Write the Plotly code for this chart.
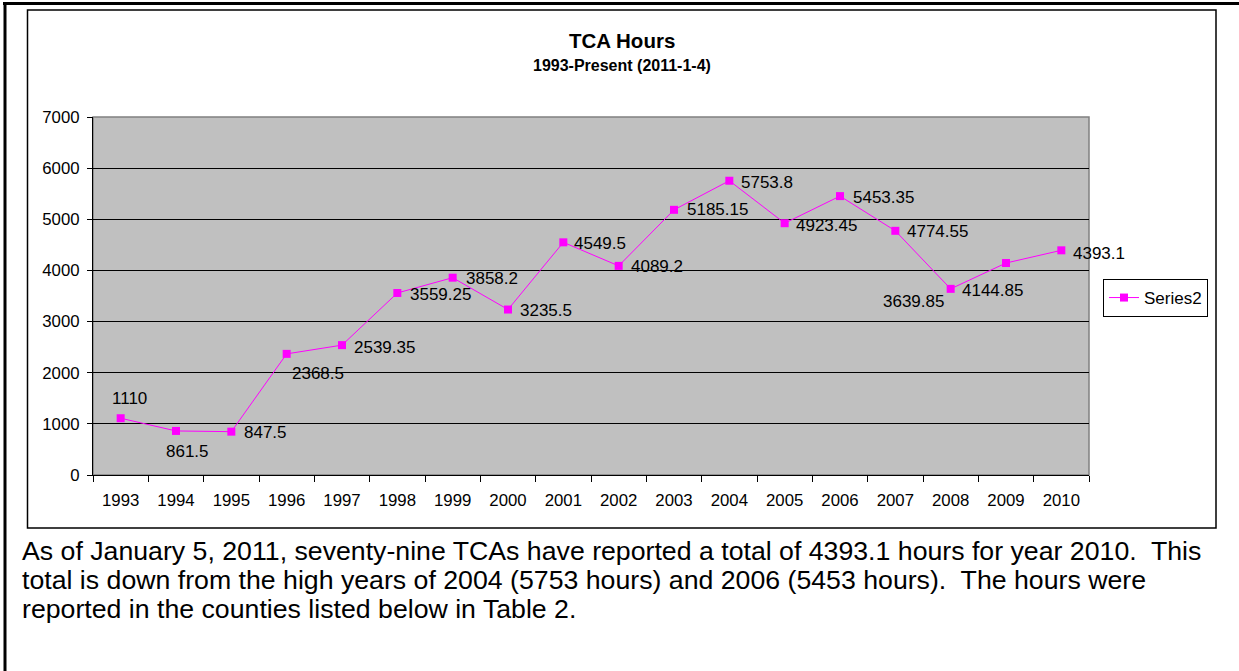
import plotly.graph_objects as go

# ---------------- data ----------------
years = ["1993", "1994", "1995", "1996", "1997", "1998", "1999", "2000", "2001",
         "2002", "2003", "2004", "2005", "2006", "2007", "2008", "2009", "2010"]
hours = [1110, 861.5, 847.5, 2368.5, 2539.35, 3559.25, 3858.2, 3235.5, 4549.5,
         4089.2, 5185.15, 5753.8, 4923.45, 5453.35, 4774.55, 3639.85, 4144.85, 4393.1]
series_name = "Series2"
y_ticks = [0, 1000, 2000, 3000, 4000, 5000, 6000, 7000]

title_text = "TCA Hours"
subtitle_text = "1993-Present (2011-1-4)"
paragraph_lines = [
    "As of January 5, 2011, seventy-nine TCAs have reported a total of 4393.1 hours for year 2010.\u00a0 This",
    "total is down from the high years of 2004 (5753 hours) and 2006 (5453 hours).\u00a0 The hours were",
    "reported in the counties listed below in Table 2.",
]

# ---------------- style ----------------
W, H = 1239, 671
PL, PR, PT, PB = 93, 1089, 117, 475          # plot area in pixels
FONT = "Liberation Sans, Arial, sans-serif"
MAGENTA = "#FF00FF"

# label offsets (pixels: right, down) relative to each marker
label_dx = [9, 11, 34, 31, 42, 43, 39, 38, 37, 38, 43, 38, 42, 43, 42, -37, -14, 38]
label_dy = [-20, 21, 1, 20, 2, 2, 1, 1, 1, 1, 0, 2, 2, 1, 1, 13, 27, 3]


def px(x):
    return (x - PL) / (PR - PL)


def py(y):
    return (PB - y) / (PB - PT)


fig = go.Figure()
fig.add_trace(go.Scatter(
    x=years, y=hours, name=series_name, mode="lines+markers",
    line=dict(color=MAGENTA, width=1),
    marker=dict(symbol="square", size=8, color=MAGENTA),
))

annotations = []
for i, (v, dx, dy) in enumerate(zip(hours, label_dx, label_dy)):
    annotations.append(dict(
        x=i, y=v, xref="x", yref="y", text=format(v, "g"), showarrow=False,
        xanchor="center", yanchor="middle",
        xshift=dx, yshift=-dy, font=dict(family=FONT, size=17, color="black"),
    ))

annotations.append(dict(x=px(622), y=py(40), xref="paper", yref="paper", text=f"<b>{title_text}</b>",
                        showarrow=False, xanchor="center", yanchor="middle",
                        font=dict(family=FONT, size=20.5, color="black")))
annotations.append(dict(x=px(622), y=py(65), xref="paper", yref="paper", text=f"<b>{subtitle_text}</b>",
                        showarrow=False, xanchor="center", yanchor="middle",
                        font=dict(family=FONT, size=16, color="black")))
for i, line in enumerate(paragraph_lines):
    annotations.append(dict(x=px(20), y=py(551 + 29 * i), xref="paper", yref="paper", text=line,
                            showarrow=False, xanchor="left", yanchor="middle",
                            font=dict(family=FONT, size=26.7, color="black")))

shapes = [
    # outer page frame (top and left)
    dict(type="line", xref="paper", yref="paper", x0=px(3), x1=px(1240), y0=py(3.5), y1=py(3.5),
         line=dict(color="black", width=3)),
    dict(type="line", xref="paper", yref="paper", x0=px(5), x1=px(5), y0=py(2), y1=py(672),
         line=dict(color="black", width=3)),
    # chart frame
    dict(type="rect", xref="paper", yref="paper", x0=px(27.5), x1=px(1216), y0=py(10), y1=py(528),
         line=dict(color="black", width=1.5)),
    # plot area frame (gray)
    dict(type="rect", xref="paper", yref="paper", x0=0, x1=1, y0=0, y1=1,
         line=dict(color="#808080", width=1.5), layer="below"),
]

fig.update_layout(
    width=W, height=H, autosize=False,
    margin=dict(l=PL, r=W - PR, t=PT, b=H - PB, pad=0),
    paper_bgcolor="white", plot_bgcolor="#C0C0C0",
    font=dict(family=FONT, size=17, color="black"),
    showlegend=True,
    legend=dict(x=px(1103), y=py(279), xanchor="left", yanchor="top",
                bgcolor="white", bordercolor="black", borderwidth=1,
                font=dict(family=FONT, size=17, color="black"),
                itemwidth=30, tracegroupgap=0),
    annotations=annotations,
    shapes=shapes,
    xaxis=dict(type="category", range=[-0.5, len(years) - 0.5], autorange=False,
               tickson="boundaries", ticks="outside", ticklen=6,
               tickcolor="black", showline=True, linecolor="black", linewidth=1,
               showgrid=False, zeroline=False, ticklabelstandoff=10, tickangle=0,
               tickfont=dict(family=FONT, size=16.8, color="black")),
    yaxis=dict(range=[0, 7000], autorange=False, tickvals=y_ticks, ticks="outside", ticklen=5,
               tickcolor="black", showline=True, linecolor="black", linewidth=1,
               showgrid=True, gridcolor="black", gridwidth=1, zeroline=False,
               ticklabelstandoff=4,
               tickfont=dict(family=FONT, size=16.8, color="black")),
)

fig.write_html("out.html", config={"displayModeBar": False},
               post_script="document.body.style.margin='0';")
